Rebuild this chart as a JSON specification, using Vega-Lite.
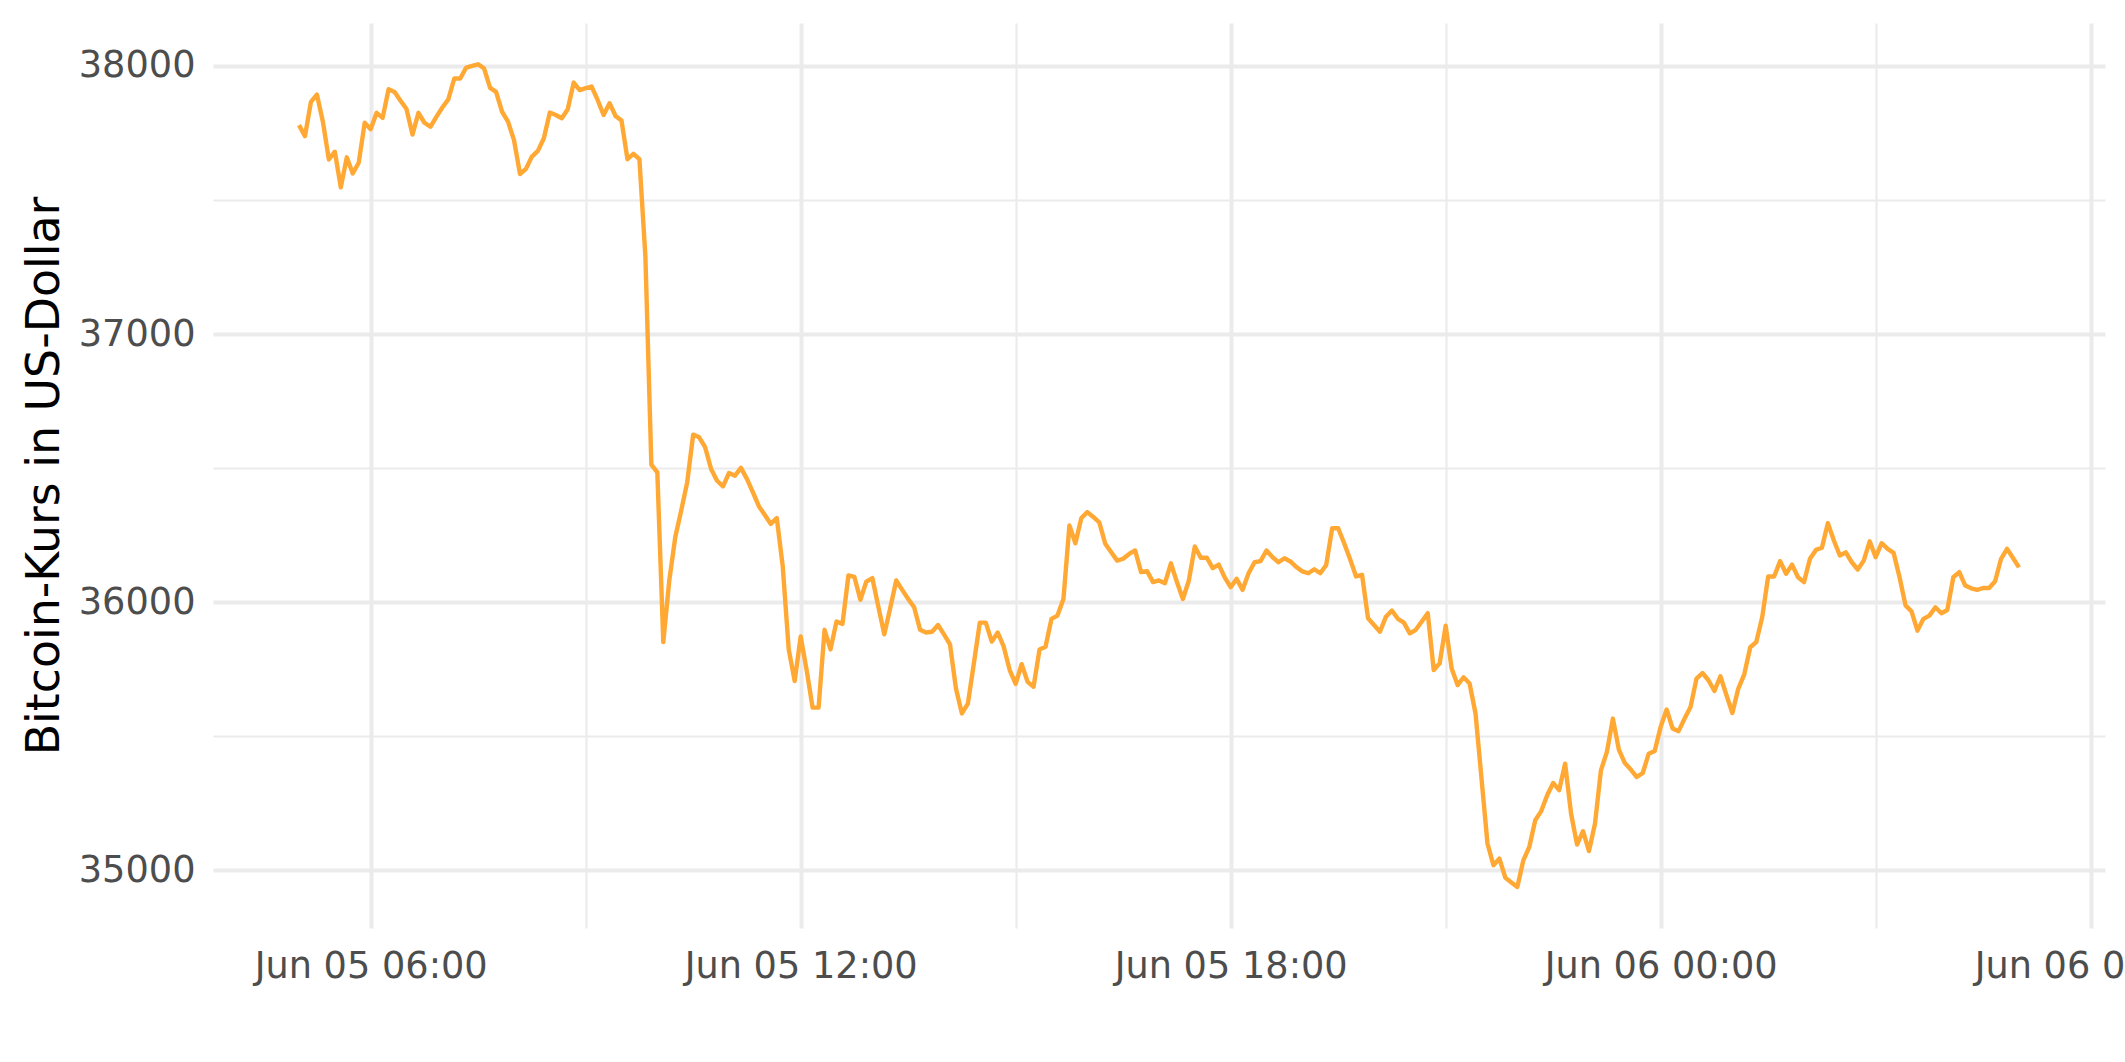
{
  "$schema": "https://vega.github.io/schema/vega-lite/v6.json",
  "width": 1892,
  "height": 905,
  "autosize": {"type": "none"},
  "padding": {"left": 213, "top": 23, "right": 20, "bottom": 134},
  "background": "white",
  "config": {"view": {"stroke": null}, "font": "DejaVu Sans"},
  "data": {"values": [
    {"time": "2021-06-05T05:00", "price": 37779}, {"time": "2021-06-05T05:05", "price": 37738}, {"time": "2021-06-05T05:10", "price": 37866}, {"time": "2021-06-05T05:15", "price": 37893},
    {"time": "2021-06-05T05:20", "price": 37792}, {"time": "2021-06-05T05:25", "price": 37651}, {"time": "2021-06-05T05:30", "price": 37680}, {"time": "2021-06-05T05:35", "price": 37547},
    {"time": "2021-06-05T05:40", "price": 37659}, {"time": "2021-06-05T05:45", "price": 37599}, {"time": "2021-06-05T05:50", "price": 37639}, {"time": "2021-06-05T05:55", "price": 37788},
    {"time": "2021-06-05T06:00", "price": 37764}, {"time": "2021-06-05T06:05", "price": 37825}, {"time": "2021-06-05T06:10", "price": 37806}, {"time": "2021-06-05T06:15", "price": 37913},
    {"time": "2021-06-05T06:20", "price": 37903}, {"time": "2021-06-05T06:25", "price": 37870}, {"time": "2021-06-05T06:30", "price": 37839}, {"time": "2021-06-05T06:35", "price": 37744},
    {"time": "2021-06-05T06:40", "price": 37825}, {"time": "2021-06-05T06:45", "price": 37788}, {"time": "2021-06-05T06:50", "price": 37773}, {"time": "2021-06-05T06:55", "price": 37810},
    {"time": "2021-06-05T07:00", "price": 37845}, {"time": "2021-06-05T07:05", "price": 37875}, {"time": "2021-06-05T07:10", "price": 37953}, {"time": "2021-06-05T07:15", "price": 37953},
    {"time": "2021-06-05T07:20", "price": 37994}, {"time": "2021-06-05T07:25", "price": 38000}, {"time": "2021-06-05T07:30", "price": 38006}, {"time": "2021-06-05T07:35", "price": 37990},
    {"time": "2021-06-05T07:40", "price": 37918}, {"time": "2021-06-05T07:45", "price": 37903}, {"time": "2021-06-05T07:50", "price": 37829}, {"time": "2021-06-05T07:55", "price": 37792},
    {"time": "2021-06-05T08:00", "price": 37723}, {"time": "2021-06-05T08:05", "price": 37597}, {"time": "2021-06-05T08:10", "price": 37616}, {"time": "2021-06-05T08:15", "price": 37662},
    {"time": "2021-06-05T08:20", "price": 37683}, {"time": "2021-06-05T08:25", "price": 37730}, {"time": "2021-06-05T08:30", "price": 37826}, {"time": "2021-06-05T08:35", "price": 37817},
    {"time": "2021-06-05T08:40", "price": 37805}, {"time": "2021-06-05T08:45", "price": 37838}, {"time": "2021-06-05T08:50", "price": 37938}, {"time": "2021-06-05T08:55", "price": 37910},
    {"time": "2021-06-05T09:00", "price": 37917}, {"time": "2021-06-05T09:05", "price": 37923}, {"time": "2021-06-05T09:10", "price": 37873}, {"time": "2021-06-05T09:15", "price": 37817},
    {"time": "2021-06-05T09:20", "price": 37861}, {"time": "2021-06-05T09:25", "price": 37813}, {"time": "2021-06-05T09:30", "price": 37796}, {"time": "2021-06-05T09:35", "price": 37652},
    {"time": "2021-06-05T09:40", "price": 37672}, {"time": "2021-06-05T09:45", "price": 37652}, {"time": "2021-06-05T09:50", "price": 37290}, {"time": "2021-06-05T09:55", "price": 36513},
    {"time": "2021-06-05T10:00", "price": 36484}, {"time": "2021-06-05T10:05", "price": 35851}, {"time": "2021-06-05T10:10", "price": 36081}, {"time": "2021-06-05T10:15", "price": 36242},
    {"time": "2021-06-05T10:20", "price": 36342}, {"time": "2021-06-05T10:25", "price": 36447}, {"time": "2021-06-05T10:30", "price": 36625}, {"time": "2021-06-05T10:35", "price": 36615},
    {"time": "2021-06-05T10:40", "price": 36578}, {"time": "2021-06-05T10:45", "price": 36497}, {"time": "2021-06-05T10:50", "price": 36453}, {"time": "2021-06-05T10:55", "price": 36432},
    {"time": "2021-06-05T11:00", "price": 36482}, {"time": "2021-06-05T11:05", "price": 36472}, {"time": "2021-06-05T11:10", "price": 36501}, {"time": "2021-06-05T11:15", "price": 36460},
    {"time": "2021-06-05T11:20", "price": 36410}, {"time": "2021-06-05T11:25", "price": 36358}, {"time": "2021-06-05T11:30", "price": 36325}, {"time": "2021-06-05T11:35", "price": 36292},
    {"time": "2021-06-05T11:40", "price": 36314}, {"time": "2021-06-05T11:45", "price": 36133}, {"time": "2021-06-05T11:50", "price": 35824}, {"time": "2021-06-05T11:55", "price": 35706},
    {"time": "2021-06-05T12:00", "price": 35872}, {"time": "2021-06-05T12:05", "price": 35747}, {"time": "2021-06-05T12:10", "price": 35607}, {"time": "2021-06-05T12:15", "price": 35607},
    {"time": "2021-06-05T12:20", "price": 35897}, {"time": "2021-06-05T12:25", "price": 35824}, {"time": "2021-06-05T12:30", "price": 35928}, {"time": "2021-06-05T12:35", "price": 35919},
    {"time": "2021-06-05T12:40", "price": 36100}, {"time": "2021-06-05T12:45", "price": 36094}, {"time": "2021-06-05T12:50", "price": 36009}, {"time": "2021-06-05T12:55", "price": 36077},
    {"time": "2021-06-05T13:00", "price": 36090}, {"time": "2021-06-05T13:05", "price": 35984}, {"time": "2021-06-05T13:10", "price": 35880}, {"time": "2021-06-05T13:15", "price": 35978},
    {"time": "2021-06-05T13:20", "price": 36081}, {"time": "2021-06-05T13:25", "price": 36046}, {"time": "2021-06-05T13:30", "price": 36012}, {"time": "2021-06-05T13:35", "price": 35981},
    {"time": "2021-06-05T13:40", "price": 35897}, {"time": "2021-06-05T13:45", "price": 35887}, {"time": "2021-06-05T13:50", "price": 35890}, {"time": "2021-06-05T13:55", "price": 35915},
    {"time": "2021-06-05T14:00", "price": 35880}, {"time": "2021-06-05T14:05", "price": 35843}, {"time": "2021-06-05T14:10", "price": 35678}, {"time": "2021-06-05T14:15", "price": 35585},
    {"time": "2021-06-05T14:20", "price": 35622}, {"time": "2021-06-05T14:25", "price": 35772}, {"time": "2021-06-05T14:30", "price": 35924}, {"time": "2021-06-05T14:35", "price": 35924},
    {"time": "2021-06-05T14:40", "price": 35853}, {"time": "2021-06-05T14:45", "price": 35887}, {"time": "2021-06-05T14:50", "price": 35834}, {"time": "2021-06-05T14:55", "price": 35747},
    {"time": "2021-06-05T15:00", "price": 35695}, {"time": "2021-06-05T15:05", "price": 35769}, {"time": "2021-06-05T15:10", "price": 35703}, {"time": "2021-06-05T15:15", "price": 35685},
    {"time": "2021-06-05T15:20", "price": 35824}, {"time": "2021-06-05T15:25", "price": 35834}, {"time": "2021-06-05T15:30", "price": 35938}, {"time": "2021-06-05T15:35", "price": 35950},
    {"time": "2021-06-05T15:40", "price": 36012}, {"time": "2021-06-05T15:45", "price": 36286}, {"time": "2021-06-05T15:50", "price": 36220}, {"time": "2021-06-05T15:55", "price": 36314},
    {"time": "2021-06-05T16:00", "price": 36336}, {"time": "2021-06-05T16:05", "price": 36318}, {"time": "2021-06-05T16:10", "price": 36298}, {"time": "2021-06-05T16:15", "price": 36218},
    {"time": "2021-06-05T16:20", "price": 36186}, {"time": "2021-06-05T16:25", "price": 36155}, {"time": "2021-06-05T16:30", "price": 36162}, {"time": "2021-06-05T16:35", "price": 36180},
    {"time": "2021-06-05T16:40", "price": 36193}, {"time": "2021-06-05T16:45", "price": 36112}, {"time": "2021-06-05T16:50", "price": 36116}, {"time": "2021-06-05T16:55", "price": 36075},
    {"time": "2021-06-05T17:00", "price": 36081}, {"time": "2021-06-05T17:05", "price": 36071}, {"time": "2021-06-05T17:10", "price": 36145}, {"time": "2021-06-05T17:15", "price": 36075},
    {"time": "2021-06-05T17:20", "price": 36012}, {"time": "2021-06-05T17:25", "price": 36081}, {"time": "2021-06-05T17:30", "price": 36208}, {"time": "2021-06-05T17:35", "price": 36166},
    {"time": "2021-06-05T17:40", "price": 36166}, {"time": "2021-06-05T17:45", "price": 36127}, {"time": "2021-06-05T17:50", "price": 36140}, {"time": "2021-06-05T17:55", "price": 36093},
    {"time": "2021-06-05T18:00", "price": 36056}, {"time": "2021-06-05T18:05", "price": 36087}, {"time": "2021-06-05T18:10", "price": 36046}, {"time": "2021-06-05T18:15", "price": 36108},
    {"time": "2021-06-05T18:20", "price": 36149}, {"time": "2021-06-05T18:25", "price": 36153}, {"time": "2021-06-05T18:30", "price": 36193}, {"time": "2021-06-05T18:35", "price": 36168},
    {"time": "2021-06-05T18:40", "price": 36149}, {"time": "2021-06-05T18:45", "price": 36164}, {"time": "2021-06-05T18:50", "price": 36152}, {"time": "2021-06-05T18:55", "price": 36131},
    {"time": "2021-06-05T19:00", "price": 36115}, {"time": "2021-06-05T19:05", "price": 36108}, {"time": "2021-06-05T19:10", "price": 36123}, {"time": "2021-06-05T19:15", "price": 36108},
    {"time": "2021-06-05T19:20", "price": 36139}, {"time": "2021-06-05T19:25", "price": 36276}, {"time": "2021-06-05T19:30", "price": 36276}, {"time": "2021-06-05T19:35", "price": 36220},
    {"time": "2021-06-05T19:40", "price": 36160}, {"time": "2021-06-05T19:45", "price": 36096}, {"time": "2021-06-05T19:50", "price": 36102}, {"time": "2021-06-05T19:55", "price": 35940},
    {"time": "2021-06-05T20:00", "price": 35915}, {"time": "2021-06-05T20:05", "price": 35890}, {"time": "2021-06-05T20:10", "price": 35946}, {"time": "2021-06-05T20:15", "price": 35969},
    {"time": "2021-06-05T20:20", "price": 35938}, {"time": "2021-06-05T20:25", "price": 35924}, {"time": "2021-06-05T20:30", "price": 35884}, {"time": "2021-06-05T20:35", "price": 35897},
    {"time": "2021-06-05T20:40", "price": 35928}, {"time": "2021-06-05T20:45", "price": 35959}, {"time": "2021-06-05T20:50", "price": 35747}, {"time": "2021-06-05T20:55", "price": 35772},
    {"time": "2021-06-05T21:00", "price": 35912}, {"time": "2021-06-05T21:05", "price": 35753}, {"time": "2021-06-05T21:10", "price": 35691}, {"time": "2021-06-05T21:15", "price": 35720},
    {"time": "2021-06-05T21:20", "price": 35697}, {"time": "2021-06-05T21:25", "price": 35585}, {"time": "2021-06-05T21:30", "price": 35343}, {"time": "2021-06-05T21:35", "price": 35100},
    {"time": "2021-06-05T21:40", "price": 35019}, {"time": "2021-06-05T21:45", "price": 35044}, {"time": "2021-06-05T21:50", "price": 34972}, {"time": "2021-06-05T21:55", "price": 34955},
    {"time": "2021-06-05T22:00", "price": 34938}, {"time": "2021-06-05T22:05", "price": 35037}, {"time": "2021-06-05T22:10", "price": 35087}, {"time": "2021-06-05T22:15", "price": 35187},
    {"time": "2021-06-05T22:20", "price": 35221}, {"time": "2021-06-05T22:25", "price": 35280}, {"time": "2021-06-05T22:30", "price": 35326}, {"time": "2021-06-05T22:35", "price": 35299},
    {"time": "2021-06-05T22:40", "price": 35398}, {"time": "2021-06-05T22:45", "price": 35211}, {"time": "2021-06-05T22:50", "price": 35096}, {"time": "2021-06-05T22:55", "price": 35146},
    {"time": "2021-06-05T23:00", "price": 35072}, {"time": "2021-06-05T23:05", "price": 35174}, {"time": "2021-06-05T23:10", "price": 35373}, {"time": "2021-06-05T23:15", "price": 35442},
    {"time": "2021-06-05T23:20", "price": 35566}, {"time": "2021-06-05T23:25", "price": 35450}, {"time": "2021-06-05T23:30", "price": 35400}, {"time": "2021-06-05T23:35", "price": 35376},
    {"time": "2021-06-05T23:40", "price": 35348}, {"time": "2021-06-05T23:45", "price": 35363}, {"time": "2021-06-05T23:50", "price": 35435}, {"time": "2021-06-05T23:55", "price": 35445},
    {"time": "2021-06-06T00:00", "price": 35535}, {"time": "2021-06-06T00:05", "price": 35600}, {"time": "2021-06-06T00:10", "price": 35529}, {"time": "2021-06-06T00:15", "price": 35519},
    {"time": "2021-06-06T00:20", "price": 35566}, {"time": "2021-06-06T00:25", "price": 35609}, {"time": "2021-06-06T00:30", "price": 35715}, {"time": "2021-06-06T00:35", "price": 35736},
    {"time": "2021-06-06T00:40", "price": 35709}, {"time": "2021-06-06T00:45", "price": 35669}, {"time": "2021-06-06T00:50", "price": 35724}, {"time": "2021-06-06T00:55", "price": 35655},
    {"time": "2021-06-06T01:00", "price": 35587}, {"time": "2021-06-06T01:05", "price": 35678}, {"time": "2021-06-06T01:10", "price": 35731}, {"time": "2021-06-06T01:15", "price": 35832},
    {"time": "2021-06-06T01:20", "price": 35851}, {"time": "2021-06-06T01:25", "price": 35944}, {"time": "2021-06-06T01:30", "price": 36096}, {"time": "2021-06-06T01:35", "price": 36096},
    {"time": "2021-06-06T01:40", "price": 36153}, {"time": "2021-06-06T01:45", "price": 36106}, {"time": "2021-06-06T01:50", "price": 36140}, {"time": "2021-06-06T01:55", "price": 36093},
    {"time": "2021-06-06T02:00", "price": 36075}, {"time": "2021-06-06T02:05", "price": 36162}, {"time": "2021-06-06T02:10", "price": 36195}, {"time": "2021-06-06T02:15", "price": 36203},
    {"time": "2021-06-06T02:20", "price": 36295}, {"time": "2021-06-06T02:25", "price": 36230}, {"time": "2021-06-06T02:30", "price": 36174}, {"time": "2021-06-06T02:35", "price": 36186},
    {"time": "2021-06-06T02:40", "price": 36149}, {"time": "2021-06-06T02:45", "price": 36122}, {"time": "2021-06-06T02:50", "price": 36155}, {"time": "2021-06-06T02:55", "price": 36227},
    {"time": "2021-06-06T03:00", "price": 36168}, {"time": "2021-06-06T03:05", "price": 36220}, {"time": "2021-06-06T03:10", "price": 36199}, {"time": "2021-06-06T03:15", "price": 36184},
    {"time": "2021-06-06T03:20", "price": 36093}, {"time": "2021-06-06T03:25", "price": 35988}, {"time": "2021-06-06T03:30", "price": 35966}, {"time": "2021-06-06T03:35", "price": 35894},
    {"time": "2021-06-06T03:40", "price": 35938}, {"time": "2021-06-06T03:45", "price": 35950}, {"time": "2021-06-06T03:50", "price": 35981}, {"time": "2021-06-06T03:55", "price": 35959},
    {"time": "2021-06-06T04:00", "price": 35971}, {"time": "2021-06-06T04:05", "price": 36093}, {"time": "2021-06-06T04:10", "price": 36112}, {"time": "2021-06-06T04:15", "price": 36062},
    {"time": "2021-06-06T04:20", "price": 36052}, {"time": "2021-06-06T04:25", "price": 36046}, {"time": "2021-06-06T04:30", "price": 36053}, {"time": "2021-06-06T04:35", "price": 36053},
    {"time": "2021-06-06T04:40", "price": 36078}, {"time": "2021-06-06T04:45", "price": 36162}, {"time": "2021-06-06T04:50", "price": 36199}, {"time": "2021-06-06T04:55", "price": 36165},
    {"time": "2021-06-06T05:00", "price": 36130}
  ]},
  "layer": [
    {
      "mark": {"type": "line", "opacity": 0},
      "encoding": {
        "x": {
          "field": "time", "type": "temporal",
          "scale": {"domain": [{"year": 2021, "month": 6, "date": 5, "hours": 3, "minutes": 48}, {"year": 2021, "month": 6, "date": 6, "hours": 6, "minutes": 12}], "nice": false},
          "axis": {
            "orient": "bottom",
            "values": [{"year": 2021, "month": 6, "date": 5, "hours": 9}, {"year": 2021, "month": 6, "date": 5, "hours": 15}, {"year": 2021, "month": 6, "date": 5, "hours": 21}, {"year": 2021, "month": 6, "date": 6, "hours": 3}],
            "labels": false, "ticks": false, "domain": false, "title": null,
            "grid": true, "gridColor": "#EBEBEB", "gridWidth": 2.1
          }
        },
        "y": {
          "field": "price", "type": "quantitative",
          "scale": {"domain": [34785, 38160], "nice": false, "zero": false},
          "axis": {
            "orient": "left",
            "values": [35500, 36500, 37500],
            "labels": false, "ticks": false, "domain": false, "title": null,
            "grid": true, "gridColor": "#EBEBEB", "gridWidth": 2.1
          }
        }
      }
    },
    {
      "mark": {"type": "line", "color": "#FFA834", "strokeWidth": 4.4, "strokeJoin": "round"},
      "encoding": {
        "x": {
          "field": "time", "type": "temporal",
          "scale": {"domain": [{"year": 2021, "month": 6, "date": 5, "hours": 3, "minutes": 48}, {"year": 2021, "month": 6, "date": 6, "hours": 6, "minutes": 12}], "nice": false},
          "axis": {
            "orient": "bottom",
            "values": [{"year": 2021, "month": 6, "date": 5, "hours": 6}, {"year": 2021, "month": 6, "date": 5, "hours": 12}, {"year": 2021, "month": 6, "date": 5, "hours": 18}, {"year": 2021, "month": 6, "date": 6, "hours": 0}, {"year": 2021, "month": 6, "date": 6, "hours": 6}],
            "format": "%b %d %H:%M",
            "labelFlush": false, "labelOverlap": false, "labelLimit": 0, "labelBound": false,
            "labelFont": "DejaVu Sans", "labelFontSize": 36.7, "labelColor": "#4D4D4D", "labelPadding": 20,
            "ticks": false, "domain": false, "title": null,
            "grid": true, "gridColor": "#EBEBEB", "gridWidth": 4
          }
        },
        "y": {
          "field": "price", "type": "quantitative",
          "scale": {"domain": [34785, 38160], "nice": false, "zero": false},
          "axis": {
            "orient": "left",
            "values": [35000, 36000, 37000, 38000],
            "format": "d",
            "labelFont": "DejaVu Sans", "labelFontSize": 36.7, "labelColor": "#4D4D4D", "labelPadding": 18, "labelLimit": 0,
            "ticks": false, "domain": false,
            "title": "Bitcoin-Kurs in US-Dollar",
            "titleFont": "DejaVu Sans", "titleFontSize": 45.8, "titleFontWeight": "normal", "titleColor": "#000000", "titlePadding": 10,
            "grid": true, "gridColor": "#EBEBEB", "gridWidth": 4
          }
        }
      }
    }
  ],
  "resolve": {"axis": {"x": "independent", "y": "independent"}}
}
